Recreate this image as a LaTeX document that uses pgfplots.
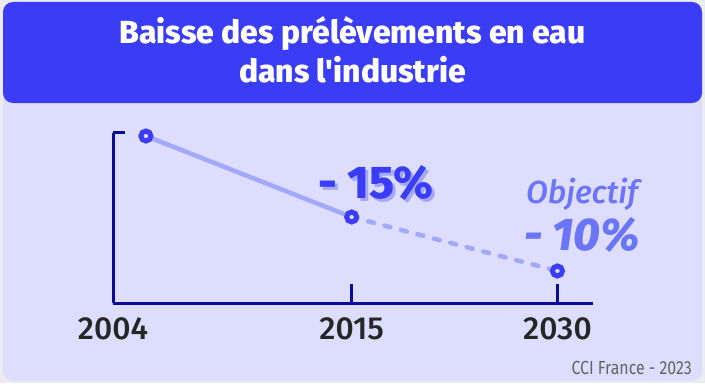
\documentclass[border=0pt]{standalone}
\usepackage{pgfplots}
\pgfplotsset{compat=1.18}
\usepackage{fontspec}
\usepackage{graphicx}
\setmainfont{Fira Sans}
\IfFontExistsTF{Fira Sans Medium}
  {\newfontfamily\tickfont{Fira Sans Medium}[ItalicFont={Fira Sans Medium Italic}]}
  {\newfontfamily\tickfont{Fira Sans}[FakeBold=0.8]}
\IfFontExistsTF{Fira Sans ExtraBold}
  {\newfontfamily\heavyfont{Fira Sans ExtraBold}[ItalicFont={Fira Sans ExtraBold Italic}]}
  {\newcommand\heavyfont{\bfseries}}
\definecolor{outerbg}{RGB}{236,236,240}
\definecolor{cardbg}{RGB}{220,221,255}
\definecolor{headblue}{RGB}{58,61,245}
\definecolor{navy}{RGB}{10,10,150}
\definecolor{lineblue}{RGB}{163,168,250}
\definecolor{peri}{RGB}{108,117,247}
\definecolor{srcgray}{RGB}{100,100,100}
\begin{document}
\begin{tikzpicture}[x=1bp,y=1bp]
% background card
\fill[outerbg] (0,0) rectangle (705,383);
\fill[cardbg, rounded corners=10bp] (3,2) rectangle (702,381);
\fill[headblue, rounded corners=10bp] (3,280) rectangle (702,381);
% title
\node[anchor=base, text=white, inner sep=0pt] at (352.5,340)
  {\fontsize{32}{36}\selectfont\heavyfont Baisse des prélèvements en eau};
\node[anchor=base, text=white, inner sep=0pt] at (352.5,301)
  {\fontsize{32}{36}\selectfont\heavyfont dans l'industrie};
\begin{axis}[
  at={(113bp,80bp)}, anchor=south west,
  scale only axis, width=480bp, height=170bp,
  xmin=-0.16, xmax=2.173, ymin=69.07, ymax=100.56,
  axis x line=bottom, axis y line=left,
  axis line style={-, navy, line width=3bp},
  xtick={-0.16,1,2},
  xticklabels={\mbox{\tickfont 2004},\mbox{\tickfont 2015},\mbox{\tickfont 2030}},
  tick align=inside, major tick length=19bp,
  x tick style={navy, line width=3bp},
  ytick=\empty,
  xticklabel style={font=\fontsize{32}{36}\selectfont, text=black!85, inner sep=0pt, anchor=north, yshift=-14bp},
  clip=false,
]
\addplot[lineblue, line width=4.5bp, line cap=round] coordinates {(0,100) (1,85)};
\addplot[lineblue, line width=4.5bp, line cap=round, dash pattern=on 6bp off 11bp] coordinates {(1,85) (2,75)};
\addplot[headblue, only marks, mark=*, mark size=5bp, line width=5bp, mark options={solid, draw=headblue, fill=cardbg, line width=5bp}] coordinates {(0,100) (1,85) (2,75)};
\draw[navy, line width=3bp, line cap=square] (rel axis cs:0,1) -- ([xshift=12bp]rel axis cs:0,1);
\end{axis}
% annotations
\node[anchor=base, inner sep=0pt, text=lineblue] at (379,182)
  {\fontsize{46}{50}\selectfont\heavyfont - 15\%};
\node[anchor=base, inner sep=0pt, text=headblue] at (376,185)
  {\fontsize{46}{50}\selectfont\heavyfont - 15\%};
\node[anchor=base, inner sep=0pt, text=peri] at (582,180)
  {\fontsize{32}{36}\selectfont\tickfont\itshape Objectif};
\node[anchor=base, inner sep=0pt, text=peri] at (582,133)
  {\fontsize{46}{50}\selectfont\heavyfont\itshape - 10\%};
\node[anchor=base east, inner sep=0pt, text=srcgray] at (692,9)
  {\scalebox{0.84}[1]{\fontsize{19}{22}\selectfont CCI France - 2023}};
\pgfresetboundingbox
\path (0,0) rectangle (705,383);
\end{tikzpicture}
\end{document}
